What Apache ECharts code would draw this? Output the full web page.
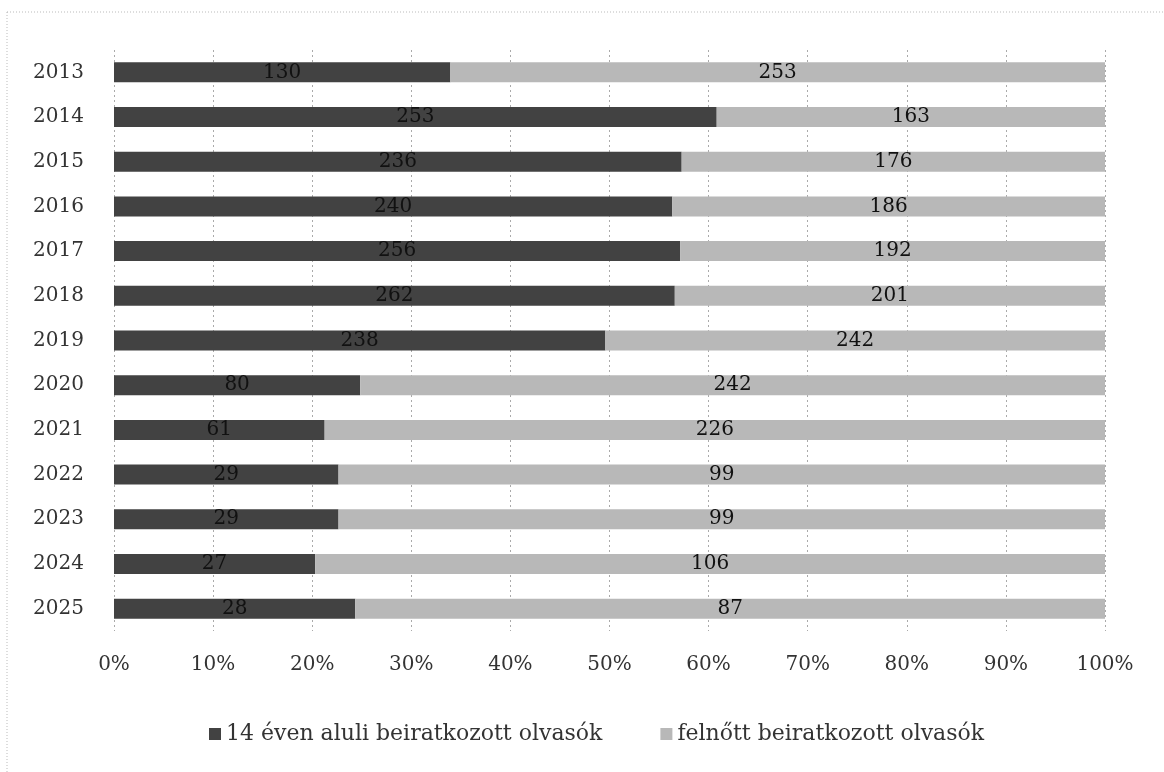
<!DOCTYPE html>
<html><head><meta charset="utf-8">
<script src="https://cdn.jsdelivr.net/npm/echarts@6/dist/echarts.min.js"></script>
<style>html,body{margin:0;padding:0;background:#fff}#c{width:1164px;height:772px}</style>
</head><body><div id="c"></div>
<script>
const years = ['2013','2014','2015','2016','2017','2018','2019','2020','2021','2022','2023','2024','2025'];
const children = [130,253,236,240,256,262,238,80,61,29,29,27,28];
const adults = [253,163,176,186,192,201,242,242,226,99,99,106,87];
const xTicks = ['0%','10%','20%','30%','40%','50%','60%','70%','80%','90%','100%'];
const seriesNames = ['14 éven aluli beiratkozott olvasók','felnőtt beiratkozott olvasók'];

const totals = years.map((y,i)=>children[i]+adults[i]);
const pct = arr => arr.map((v,i)=>({value: v/totals[i]*100, raw: v}));
const font = '"DejaVu Serif","Liberation Serif",serif';

const chart = echarts.init(document.getElementById('c'));
chart.setOption({
  animation:false,
  backgroundColor:'#fff',
  graphic:[{type:'rect',shape:{x:7,y:12,width:1170,height:800},style:{fill:'none',stroke:'#bbb',lineWidth:1,lineDash:[1,2]}}],
  grid:{left:114,right:59,top:50,bottom:141},
  legend:{left:204,top:718,itemWidth:12,itemHeight:12,itemGap:58,icon:'rect',
    textStyle:{fontFamily:font,fontSize:22,color:'#333'},data:seriesNames},
  xAxis:{type:'value',min:0,max:100,interval:10,
    axisLabel:{formatter:(v)=>xTicks[Math.round(v/10)],fontFamily:font,fontSize:20,color:'#333',margin:24},
    axisLine:{show:false},axisTick:{show:false},
    splitLine:{show:true,lineStyle:{color:'#aaa',type:[2,3],width:1}}},
  yAxis:{type:'category',data:years,inverse:true,
    axisLabel:{fontFamily:font,fontSize:20,color:'#333',margin:30},
    axisLine:{show:false},axisTick:{show:false}},
  series:[
    {name:seriesNames[0],type:'bar',stack:'a',barWidth:20,data:pct(children),
     itemStyle:{color:'#424242'},
     label:{show:true,position:'inside',formatter:p=>p.data.raw,fontFamily:font,fontSize:20,color:'#111'}},
    {name:seriesNames[1],type:'bar',stack:'a',barWidth:20,data:pct(adults),
     itemStyle:{color:'#b8b8b8'},
     label:{show:true,position:'inside',formatter:p=>p.data.raw,fontFamily:font,fontSize:20,color:'#111'}}
  ]
});
</script></body></html>
